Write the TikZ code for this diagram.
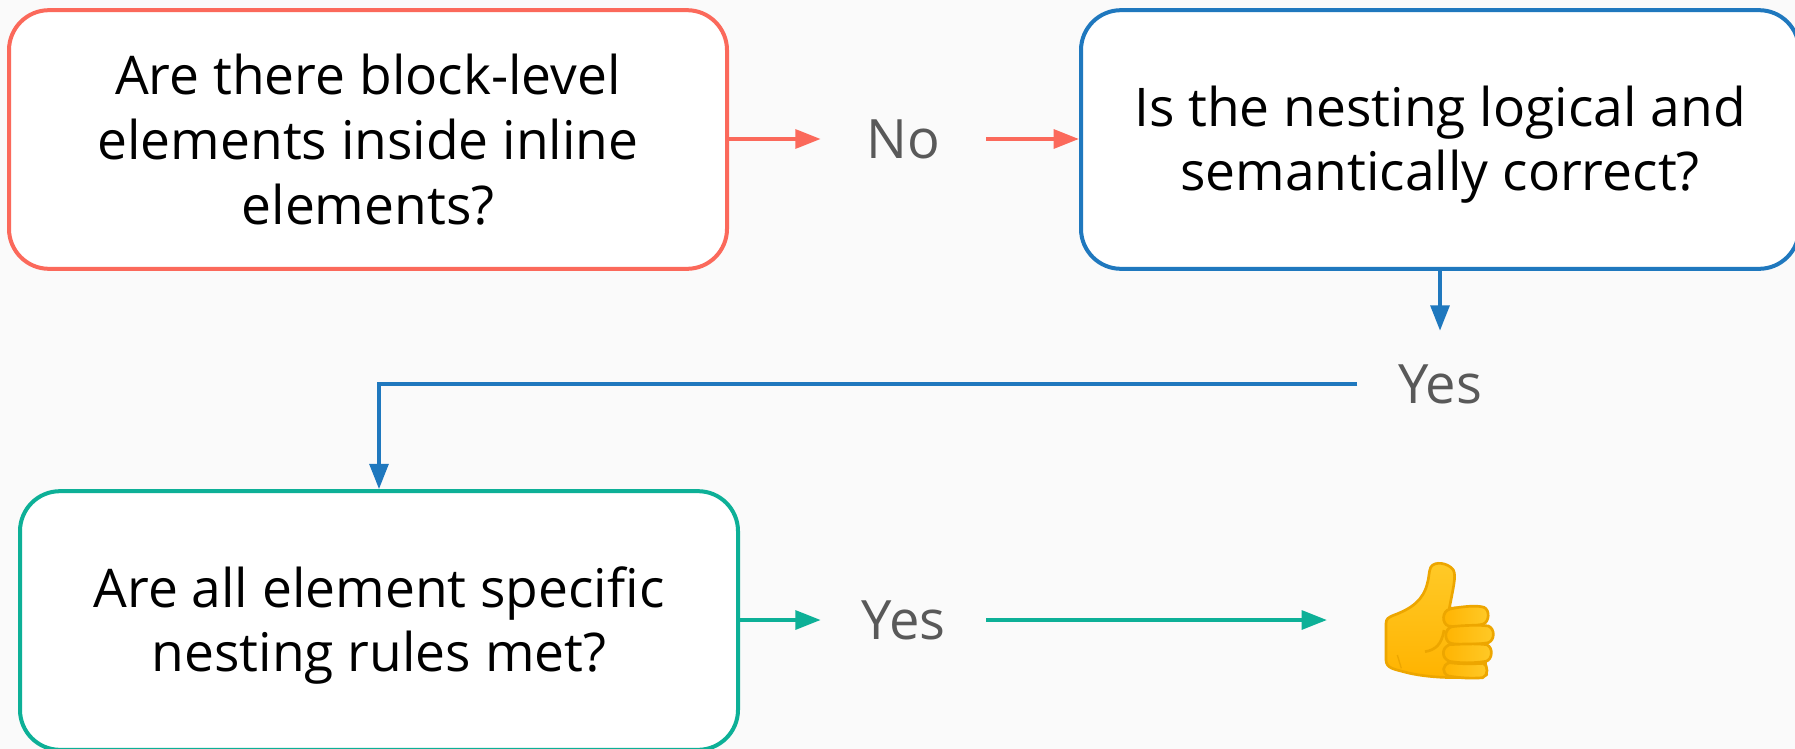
\documentclass[tikz,border=0pt]{standalone}
\usepackage{fontspec}
\setmainfont{Open Sans}
\usetikzlibrary{arrows.meta}
\definecolor{pagegray}{HTML}{FAFAFA}
\definecolor{redline}{HTML}{FB695B}
\definecolor{blueline}{HTML}{1F78BE}
\definecolor{greenline}{HTML}{0DB097}
\definecolor{labelgray}{HTML}{595959}
\definecolor{thumblight}{HTML}{FFCA28}
\definecolor{thumbdark}{HTML}{FFB300}
\definecolor{thumbedge}{HTML}{EDA600}
\newcommand{\toppad}{\rule{0pt}{38pt}}
\tikzset{
  question/.style={draw,fill=white,line width=3pt,rounded corners=30pt,
    minimum width=538.5pt,minimum height=194pt,align=center,
    font=\fontsize{40}{48.5}\selectfont},
  answer/.style={text=labelgray,minimum width=123.75pt,minimum height=79.5pt,
    inner sep=0pt,font=\fontsize{40.7}{49}\selectfont},
  link/.style={line width=3pt,-{Triangle[length=19pt,width=14pt]}},
  finger/.style={left color=thumbdark,right color=thumblight,draw=thumbedge,line width=2pt},
}
\begin{document}
\begin{tikzpicture}[x=0.75pt,y=0.75pt,yscale=-1,xscale=1]
\fill [pagegray] (0,0) rectangle (1795,749);
\useasboundingbox (0,0) rectangle (1795,749);
\clip (0,0) rectangle (1795,749);

% Question boxes
\node [question,draw=redline] (block) at (368,139.5) {Are there block-level\\elements inside inline\\elements?};
\node [question,draw=blueline] (nesting) at (1440,139.5) {\toppad Is the nesting logical and\\semantically correct?};
\node [question,draw=greenline] (rules) at (379,620.5) {\toppad Are all element specific\\nesting rules met?};

% Answers
\node [answer] (no) at (903.5,139) {No};
\node [answer] (yesnest) at (1440,384) {Yes};
\node [answer] (yesrules) at (903.5,620) {Yes};
\coordinate (done) at (1327,620);

% Connectors
\draw [link,redline] (block.east |- no) -- (no);
\draw [link,redline] (no) -- (nesting.west |- no);
\draw [link,blueline] (nesting) ++(0,129.5) -- (yesnest);
\draw [link,blueline] (yesnest) -| (rules);
\draw [link,greenline] (rules.east |- yesrules) -- (yesrules);
\draw [link,greenline] (yesrules) -- (done);

% Thumb, in pixels of a 3x crop
\begin{scope}[shift={(1340,540)},x=0.25pt,y=0.25pt]
\draw [top color=thumblight,bottom color=thumbdark,draw=thumbedge,line width=2pt,line join=round]
  (138,250) .. controls (138,236) and (146,232) .. (160,226)
  .. controls (215,206) and (250,180) .. (262,130)
  .. controls (268,108) and (266,96) .. (272,82)
  .. controls (282,62) and (325,68) .. (340,90)
  .. controls (350,108) and (338,150) .. (328,205)
  -- (420,200) -- (440,405)
  .. controls (380,418) and (260,415) .. (190,395)
  .. controls (165,388) and (138,385) .. (138,360) -- cycle;
\draw [thumbedge,line width=1pt] (172,345) -- (184,385);
\draw [finger] (330,207) .. controls (370,198) and (415,196) .. (432,202)
  .. controls (450,210) and (448,245) .. (430,252)
  .. controls (400,260) and (350,262) .. (325,258)
  .. controls (305,250) and (305,214) .. (330,207) -- cycle;
\draw [finger] (335,260) .. controls (370,256) and (420,254) .. (445,258)
  .. controls (465,266) and (465,300) .. (445,308)
  .. controls (410,314) and (360,316) .. (332,310)
  .. controls (312,302) and (312,268) .. (335,260) -- cycle;
\draw [finger] (328,314) .. controls (365,312) and (410,310) .. (440,314)
  .. controls (460,322) and (458,358) .. (438,364)
  .. controls (400,370) and (360,370) .. (328,364)
  .. controls (304,354) and (304,324) .. (328,314) -- cycle;
\draw [finger] (328,368) .. controls (360,372) and (400,372) .. (430,370)
  .. controls (445,376) and (445,408) .. (428,413)
  .. controls (395,416) and (360,414) .. (325,408)
  .. controls (305,398) and (306,376) .. (328,368) -- cycle;
\draw [thumbedge,line width=2pt] (255,335) .. controls (285,330) and (305,315) .. (312,270);
\end{scope}
\end{tikzpicture}
\end{document}
